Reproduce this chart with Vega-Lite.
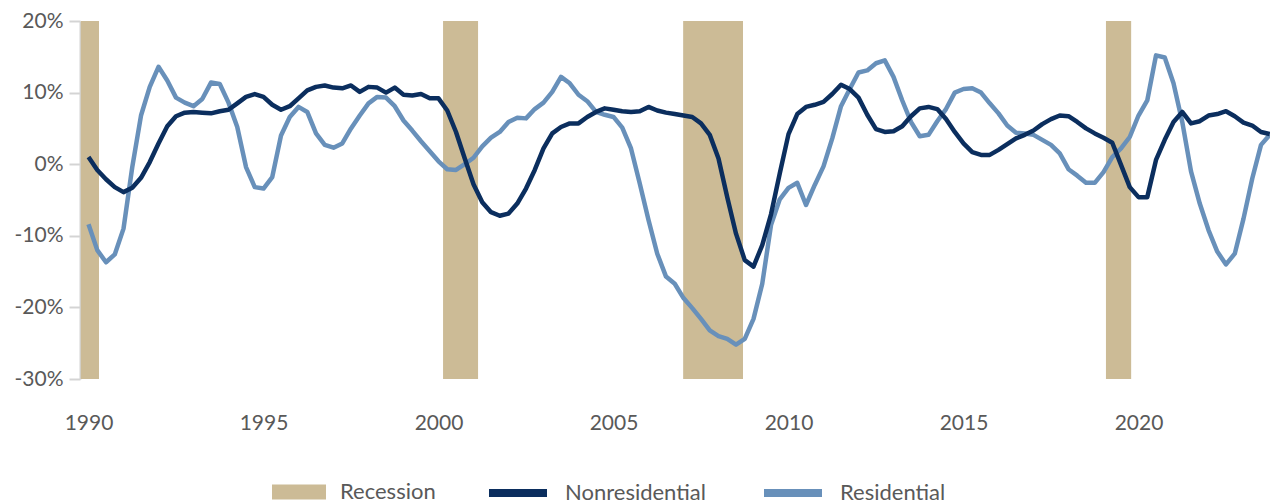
{
  "$schema": "https://vega.github.io/schema/vega-lite/v6.json",
  "width": 1190,
  "height": 358,
  "autosize": {"type": "none"},
  "padding": {"left": 80, "top": 21, "right": 0, "bottom": 123},
  "background": "white",
  "config": {
    "view": {"stroke": null},
    "font": "Lato",
    "axis": {"labelFont": "Lato", "labelColor": "#595959", "grid": false, "title": null},
    "legend": {"labelFont": "Lato"}
  },
  "datasets": {
    "rec": [
      {"label": "Recession", "start": 1989.78, "end": 1990.3},
      {"label": "Recession", "start": 2000.13, "end": 2001.13},
      {"label": "Recession", "start": 2006.99, "end": 2008.7},
      {"label": "Recession", "start": 2019.07, "end": 2019.79}
    ],
    "series": [
      {"t": 1990.00, "Residential": -8.4, "Nonresidential": 1.0},
      {"t": 1990.25, "Residential": -12.0, "Nonresidential": -0.8},
      {"t": 1990.50, "Residential": -13.7, "Nonresidential": -2.1},
      {"t": 1990.75, "Residential": -12.6, "Nonresidential": -3.2},
      {"t": 1991.00, "Residential": -9.0, "Nonresidential": -3.9},
      {"t": 1991.25, "Residential": -0.4, "Nonresidential": -3.3},
      {"t": 1991.50, "Residential": 6.8, "Nonresidential": -1.9},
      {"t": 1991.75, "Residential": 10.8, "Nonresidential": 0.3},
      {"t": 1992.00, "Residential": 13.6, "Nonresidential": 2.9},
      {"t": 1992.25, "Residential": 11.7, "Nonresidential": 5.3},
      {"t": 1992.50, "Residential": 9.3, "Nonresidential": 6.7},
      {"t": 1992.75, "Residential": 8.6, "Nonresidential": 7.2},
      {"t": 1993.00, "Residential": 8.1, "Nonresidential": 7.3},
      {"t": 1993.25, "Residential": 9.1, "Nonresidential": 7.2},
      {"t": 1993.50, "Residential": 11.4, "Nonresidential": 7.1},
      {"t": 1993.75, "Residential": 11.2, "Nonresidential": 7.4},
      {"t": 1994.00, "Residential": 8.6, "Nonresidential": 7.6},
      {"t": 1994.25, "Residential": 5.2, "Nonresidential": 8.5},
      {"t": 1994.50, "Residential": -0.4, "Nonresidential": 9.4},
      {"t": 1994.75, "Residential": -3.2, "Nonresidential": 9.8},
      {"t": 1995.00, "Residential": -3.4, "Nonresidential": 9.4},
      {"t": 1995.25, "Residential": -1.8, "Nonresidential": 8.3},
      {"t": 1995.50, "Residential": 4.0, "Nonresidential": 7.6},
      {"t": 1995.75, "Residential": 6.6, "Nonresidential": 8.1},
      {"t": 1996.00, "Residential": 8.0, "Nonresidential": 9.2},
      {"t": 1996.25, "Residential": 7.3, "Nonresidential": 10.3},
      {"t": 1996.50, "Residential": 4.3, "Nonresidential": 10.8},
      {"t": 1996.75, "Residential": 2.7, "Nonresidential": 11.0},
      {"t": 1997.00, "Residential": 2.3, "Nonresidential": 10.7},
      {"t": 1997.25, "Residential": 2.9, "Nonresidential": 10.6},
      {"t": 1997.50, "Residential": 5.0, "Nonresidential": 11.0},
      {"t": 1997.75, "Residential": 6.8, "Nonresidential": 10.1},
      {"t": 1998.00, "Residential": 8.5, "Nonresidential": 10.8},
      {"t": 1998.25, "Residential": 9.4, "Nonresidential": 10.7},
      {"t": 1998.50, "Residential": 9.3, "Nonresidential": 10.0},
      {"t": 1998.75, "Residential": 8.1, "Nonresidential": 10.7},
      {"t": 1999.00, "Residential": 6.1, "Nonresidential": 9.7},
      {"t": 1999.25, "Residential": 4.7, "Nonresidential": 9.6},
      {"t": 1999.50, "Residential": 3.2, "Nonresidential": 9.8},
      {"t": 1999.75, "Residential": 1.8, "Nonresidential": 9.2},
      {"t": 2000.00, "Residential": 0.4, "Nonresidential": 9.2},
      {"t": 2000.25, "Residential": -0.7, "Nonresidential": 7.5},
      {"t": 2000.50, "Residential": -0.8, "Nonresidential": 4.5},
      {"t": 2000.75, "Residential": 0.0, "Nonresidential": 0.8},
      {"t": 2001.00, "Residential": 0.9, "Nonresidential": -2.8},
      {"t": 2001.25, "Residential": 2.5, "Nonresidential": -5.3},
      {"t": 2001.50, "Residential": 3.7, "Nonresidential": -6.7},
      {"t": 2001.75, "Residential": 4.5, "Nonresidential": -7.2},
      {"t": 2002.00, "Residential": 5.9, "Nonresidential": -6.9},
      {"t": 2002.25, "Residential": 6.5, "Nonresidential": -5.5},
      {"t": 2002.50, "Residential": 6.4, "Nonresidential": -3.4},
      {"t": 2002.75, "Residential": 7.7, "Nonresidential": -0.8},
      {"t": 2003.00, "Residential": 8.6, "Nonresidential": 2.2},
      {"t": 2003.25, "Residential": 10.1, "Nonresidential": 4.3},
      {"t": 2003.50, "Residential": 12.2, "Nonresidential": 5.2},
      {"t": 2003.75, "Residential": 11.3, "Nonresidential": 5.7},
      {"t": 2004.00, "Residential": 9.7, "Nonresidential": 5.7},
      {"t": 2004.25, "Residential": 8.8, "Nonresidential": 6.6},
      {"t": 2004.50, "Residential": 7.3, "Nonresidential": 7.3},
      {"t": 2004.75, "Residential": 6.9, "Nonresidential": 7.8},
      {"t": 2005.00, "Residential": 6.6, "Nonresidential": 7.6},
      {"t": 2005.25, "Residential": 5.1, "Nonresidential": 7.4},
      {"t": 2005.50, "Residential": 2.2, "Nonresidential": 7.3},
      {"t": 2005.75, "Residential": -2.7, "Nonresidential": 7.4},
      {"t": 2006.00, "Residential": -7.8, "Nonresidential": 8.0},
      {"t": 2006.25, "Residential": -12.5, "Nonresidential": 7.5},
      {"t": 2006.50, "Residential": -15.7, "Nonresidential": 7.2},
      {"t": 2006.75, "Residential": -16.7, "Nonresidential": 7.0},
      {"t": 2007.00, "Residential": -18.7, "Nonresidential": 6.8},
      {"t": 2007.25, "Residential": -20.1, "Nonresidential": 6.6},
      {"t": 2007.50, "Residential": -21.6, "Nonresidential": 5.7},
      {"t": 2007.75, "Residential": -23.2, "Nonresidential": 4.1},
      {"t": 2008.00, "Residential": -24.0, "Nonresidential": 0.8},
      {"t": 2008.25, "Residential": -24.4, "Nonresidential": -4.6},
      {"t": 2008.50, "Residential": -25.2, "Nonresidential": -9.7},
      {"t": 2008.75, "Residential": -24.4, "Nonresidential": -13.4},
      {"t": 2009.00, "Residential": -21.6, "Nonresidential": -14.3},
      {"t": 2009.25, "Residential": -16.7, "Nonresidential": -11.3},
      {"t": 2009.50, "Residential": -8.5, "Nonresidential": -7.0},
      {"t": 2009.75, "Residential": -4.9, "Nonresidential": -1.3},
      {"t": 2010.00, "Residential": -3.3, "Nonresidential": 4.2},
      {"t": 2010.25, "Residential": -2.6, "Nonresidential": 7.0},
      {"t": 2010.50, "Residential": -5.7, "Nonresidential": 8.0},
      {"t": 2010.75, "Residential": -2.9, "Nonresidential": 8.3},
      {"t": 2011.00, "Residential": -0.3, "Nonresidential": 8.7},
      {"t": 2011.25, "Residential": 3.6, "Nonresidential": 9.8},
      {"t": 2011.50, "Residential": 8.1, "Nonresidential": 11.1},
      {"t": 2011.75, "Residential": 10.5, "Nonresidential": 10.5},
      {"t": 2012.00, "Residential": 12.8, "Nonresidential": 9.3},
      {"t": 2012.25, "Residential": 13.1, "Nonresidential": 6.9},
      {"t": 2012.50, "Residential": 14.1, "Nonresidential": 4.9},
      {"t": 2012.75, "Residential": 14.5, "Nonresidential": 4.5},
      {"t": 2013.00, "Residential": 12.2, "Nonresidential": 4.6},
      {"t": 2013.25, "Residential": 8.9, "Nonresidential": 5.3},
      {"t": 2013.50, "Residential": 5.9, "Nonresidential": 6.7},
      {"t": 2013.75, "Residential": 3.9, "Nonresidential": 7.8},
      {"t": 2014.00, "Residential": 4.1, "Nonresidential": 8.0},
      {"t": 2014.25, "Residential": 6.0, "Nonresidential": 7.7},
      {"t": 2014.50, "Residential": 7.7, "Nonresidential": 6.3},
      {"t": 2014.75, "Residential": 10.0, "Nonresidential": 4.5},
      {"t": 2015.00, "Residential": 10.5, "Nonresidential": 2.9},
      {"t": 2015.25, "Residential": 10.6, "Nonresidential": 1.7},
      {"t": 2015.50, "Residential": 10.0, "Nonresidential": 1.3},
      {"t": 2015.75, "Residential": 8.5, "Nonresidential": 1.3},
      {"t": 2016.00, "Residential": 7.1, "Nonresidential": 2.0},
      {"t": 2016.25, "Residential": 5.4, "Nonresidential": 2.8},
      {"t": 2016.50, "Residential": 4.4, "Nonresidential": 3.6},
      {"t": 2016.75, "Residential": 4.3, "Nonresidential": 4.1},
      {"t": 2017.00, "Residential": 4.1, "Nonresidential": 4.7},
      {"t": 2017.25, "Residential": 3.4, "Nonresidential": 5.6},
      {"t": 2017.50, "Residential": 2.7, "Nonresidential": 6.3},
      {"t": 2017.75, "Residential": 1.5, "Nonresidential": 6.8},
      {"t": 2018.00, "Residential": -0.7, "Nonresidential": 6.7},
      {"t": 2018.25, "Residential": -1.6, "Nonresidential": 5.9},
      {"t": 2018.50, "Residential": -2.6, "Nonresidential": 5.0},
      {"t": 2018.75, "Residential": -2.6, "Nonresidential": 4.3},
      {"t": 2019.00, "Residential": -1.1, "Nonresidential": 3.7},
      {"t": 2019.25, "Residential": 1.0, "Nonresidential": 3.0},
      {"t": 2019.50, "Residential": 2.2, "Nonresidential": -0.1},
      {"t": 2019.75, "Residential": 3.8, "Nonresidential": -3.2},
      {"t": 2020.00, "Residential": 6.8, "Nonresidential": -4.6},
      {"t": 2020.25, "Residential": 8.9, "Nonresidential": -4.6},
      {"t": 2020.50, "Residential": 15.2, "Nonresidential": 0.6},
      {"t": 2020.75, "Residential": 14.9, "Nonresidential": 3.4},
      {"t": 2021.00, "Residential": 11.3, "Nonresidential": 5.9},
      {"t": 2021.25, "Residential": 5.9, "Nonresidential": 7.3},
      {"t": 2021.50, "Residential": -1.0, "Nonresidential": 5.7},
      {"t": 2021.75, "Residential": -5.5, "Nonresidential": 6.0},
      {"t": 2022.00, "Residential": -9.2, "Nonresidential": 6.8},
      {"t": 2022.25, "Residential": -12.2, "Nonresidential": 7.0},
      {"t": 2022.50, "Residential": -14.0, "Nonresidential": 7.4},
      {"t": 2022.75, "Residential": -12.5, "Nonresidential": 6.7},
      {"t": 2023.00, "Residential": -7.6, "Nonresidential": 5.8},
      {"t": 2023.25, "Residential": -2.0, "Nonresidential": 5.4},
      {"t": 2023.50, "Residential": 2.7, "Nonresidential": 4.5},
      {"t": 2023.75, "Residential": 4.1, "Nonresidential": 4.2}
    ]
  },
  "layer": [
    {
      "mark": {"type": "rule", "color": "#d4d4d4", "strokeWidth": 2.5},
      "encoding": {
        "y": {"datum": 0, "type": "quantitative", "scale": {"domain": [-30, 20]},
          "axis": {"values": [-30, -20, -10, 0, 10, 20], "labelExpr": "datum.value + '%'", "labelFontSize": 21, "labelPadding": 6, "tickSize": 11, "tickColor": "#d4d4d4", "tickWidth": 2, "domainColor": "#d4d4d4", "domainWidth": 2}}
      }
    },
    {
      "data": {"name": "rec"},
      "mark": {"type": "rect"},
      "encoding": {
        "x": {"field": "start", "type": "quantitative", "scale": {"domain": [1989.757, 2023.757], "nice": false, "zero": false},
          "axis": {"values": [1990, 1995, 2000, 2005, 2010, 2015, 2020], "format": "d", "domain": false, "ticks": false, "labelPadding": 33, "labelFontSize": 21}},
        "x2": {"field": "end"},
        "y": {"datum": 20, "type": "quantitative"},
        "y2": {"datum": -30},
        "fill": {"field": "label", "type": "nominal", "scale": {"domain": ["Recession"], "range": ["#ccbb96"]},
          "legend": {"orient": "none", "legendX": 192, "legendY": 444, "title": null, "direction": "horizontal", "symbolType": "M-1,-0.28H1V0.28H-1Z", "symbolSize": 2916, "symbolStrokeWidth": 0, "labelFontSize": 22, "labelColor": "#595959", "labelOffset": 14}}
      }
    },
    {
      "data": {"name": "series"},
      "transform": [{"fold": ["Residential", "Nonresidential"], "as": ["series", "value"]}],
      "mark": {"type": "line", "strokeWidth": 4.5, "strokeJoin": "round"},
      "encoding": {
        "x": {"field": "t", "type": "quantitative"},
        "y": {"field": "value", "type": "quantitative"},
        "stroke": {"field": "series", "type": "nominal", "scale": {"domain": ["Nonresidential", "Residential"], "range": ["#0b2e5e", "#6890ba"]},
          "legend": {"orient": "none", "legendX": 405, "legendY": 439, "title": null, "direction": "horizontal", "symbolType": "stroke", "symbolSize": 3364, "symbolStrokeWidth": 8, "labelFontSize": 22, "labelColor": "#595959", "labelOffset": 14, "columnPadding": 42}}
      }
    }
  ]
}
